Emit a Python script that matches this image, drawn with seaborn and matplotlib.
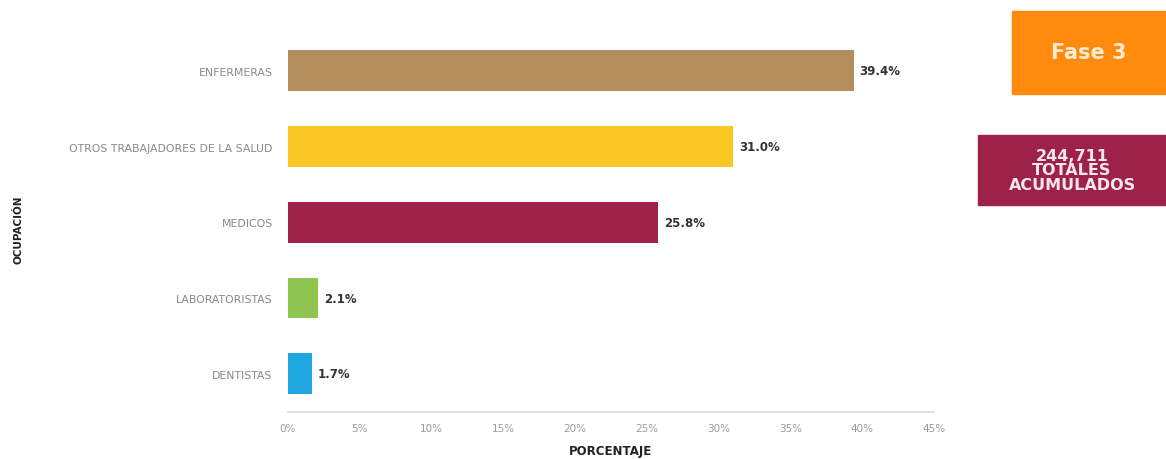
import matplotlib
matplotlib.use("Agg")
import matplotlib.pyplot as plt
import seaborn as sns
import pandas as pd
from matplotlib.patches import Rectangle

categories = ["ENFERMERAS", "OTROS TRABAJADORES DE LA SALUD", "MEDICOS", "LABORATORISTAS", "DENTISTAS"]
values = [39.4, 31.0, 25.8, 2.1, 1.7]
colors = ["#B38E5D", "#F9C623", "#9D2148", "#8DC54E", "#1EA7DF"]
xticks = [0, 5, 10, 15, 20, 25, 30, 35, 40, 45]

sns.set_theme(style="white")
plt.rcParams['font.family'] = ['DejaVu Sans']

df = pd.DataFrame({"cat": categories, "val": values})
fig = plt.figure(figsize=(11.66, 4.6), dpi=100)
ax = fig.add_axes([0.247, 0.103, 0.554, 0.823])
sns.barplot(data=df, y="cat", x="val", hue="cat", palette=colors, orient="h",
            width=0.54, legend=False, ax=ax, saturation=1, linewidth=0)

for i, v in enumerate(values):
    ax.text(v + 0.4, i, f"{v:.1f}%", va="center", ha="left", fontsize=8.5,
            fontweight="bold", color="#333333")

ax.set_xlim(0, 45)
ax.set_xticks(xticks)
ax.set_xticklabels([f"{t}%" for t in xticks], color="#999999", fontsize=7.5)
ax.tick_params(axis="y", labelsize=7.8, labelcolor="#888888", length=0, pad=11)
ax.tick_params(axis="x", length=0, pad=8)
for s in ["top", "right", "left"]:
    ax.spines[s].set_visible(False)
ax.spines["bottom"].set_color("#dddddd")
ax.set_xlabel("PORCENTAJE", fontsize=8.5, fontweight="bold", color="#222222", labelpad=8)
ax.set_ylabel("")
fig.text(0.016, 0.5, "OCUPACIÓN", rotation=90, va="center", ha="center",
         fontsize=7.5, fontweight="bold", color="#222222")

# Side boxes
fig.patches.append(Rectangle((1012/1166, 1-95/460), 154/1166, 83/460,
                             transform=fig.transFigure, color="#FF8A0D", zorder=0))
fig.text(1089/1166, 1-53/460, "Fase 3", ha="center", va="center", fontsize=15,
         fontweight="bold", color="#FDEBD0")
fig.patches.append(Rectangle((978/1166, 1-206/460), 188/1166, 70/460,
                             transform=fig.transFigure, color="#9D2148", zorder=0))
fig.text(1072/1166, 1-171/460, "244,711\nTOTALES\nACUMULADOS", ha="center", va="center",
         fontsize=11.5, fontweight="bold", color="#F8E6EC", linespacing=0.95)

fig.savefig("out.png", dpi=100)
